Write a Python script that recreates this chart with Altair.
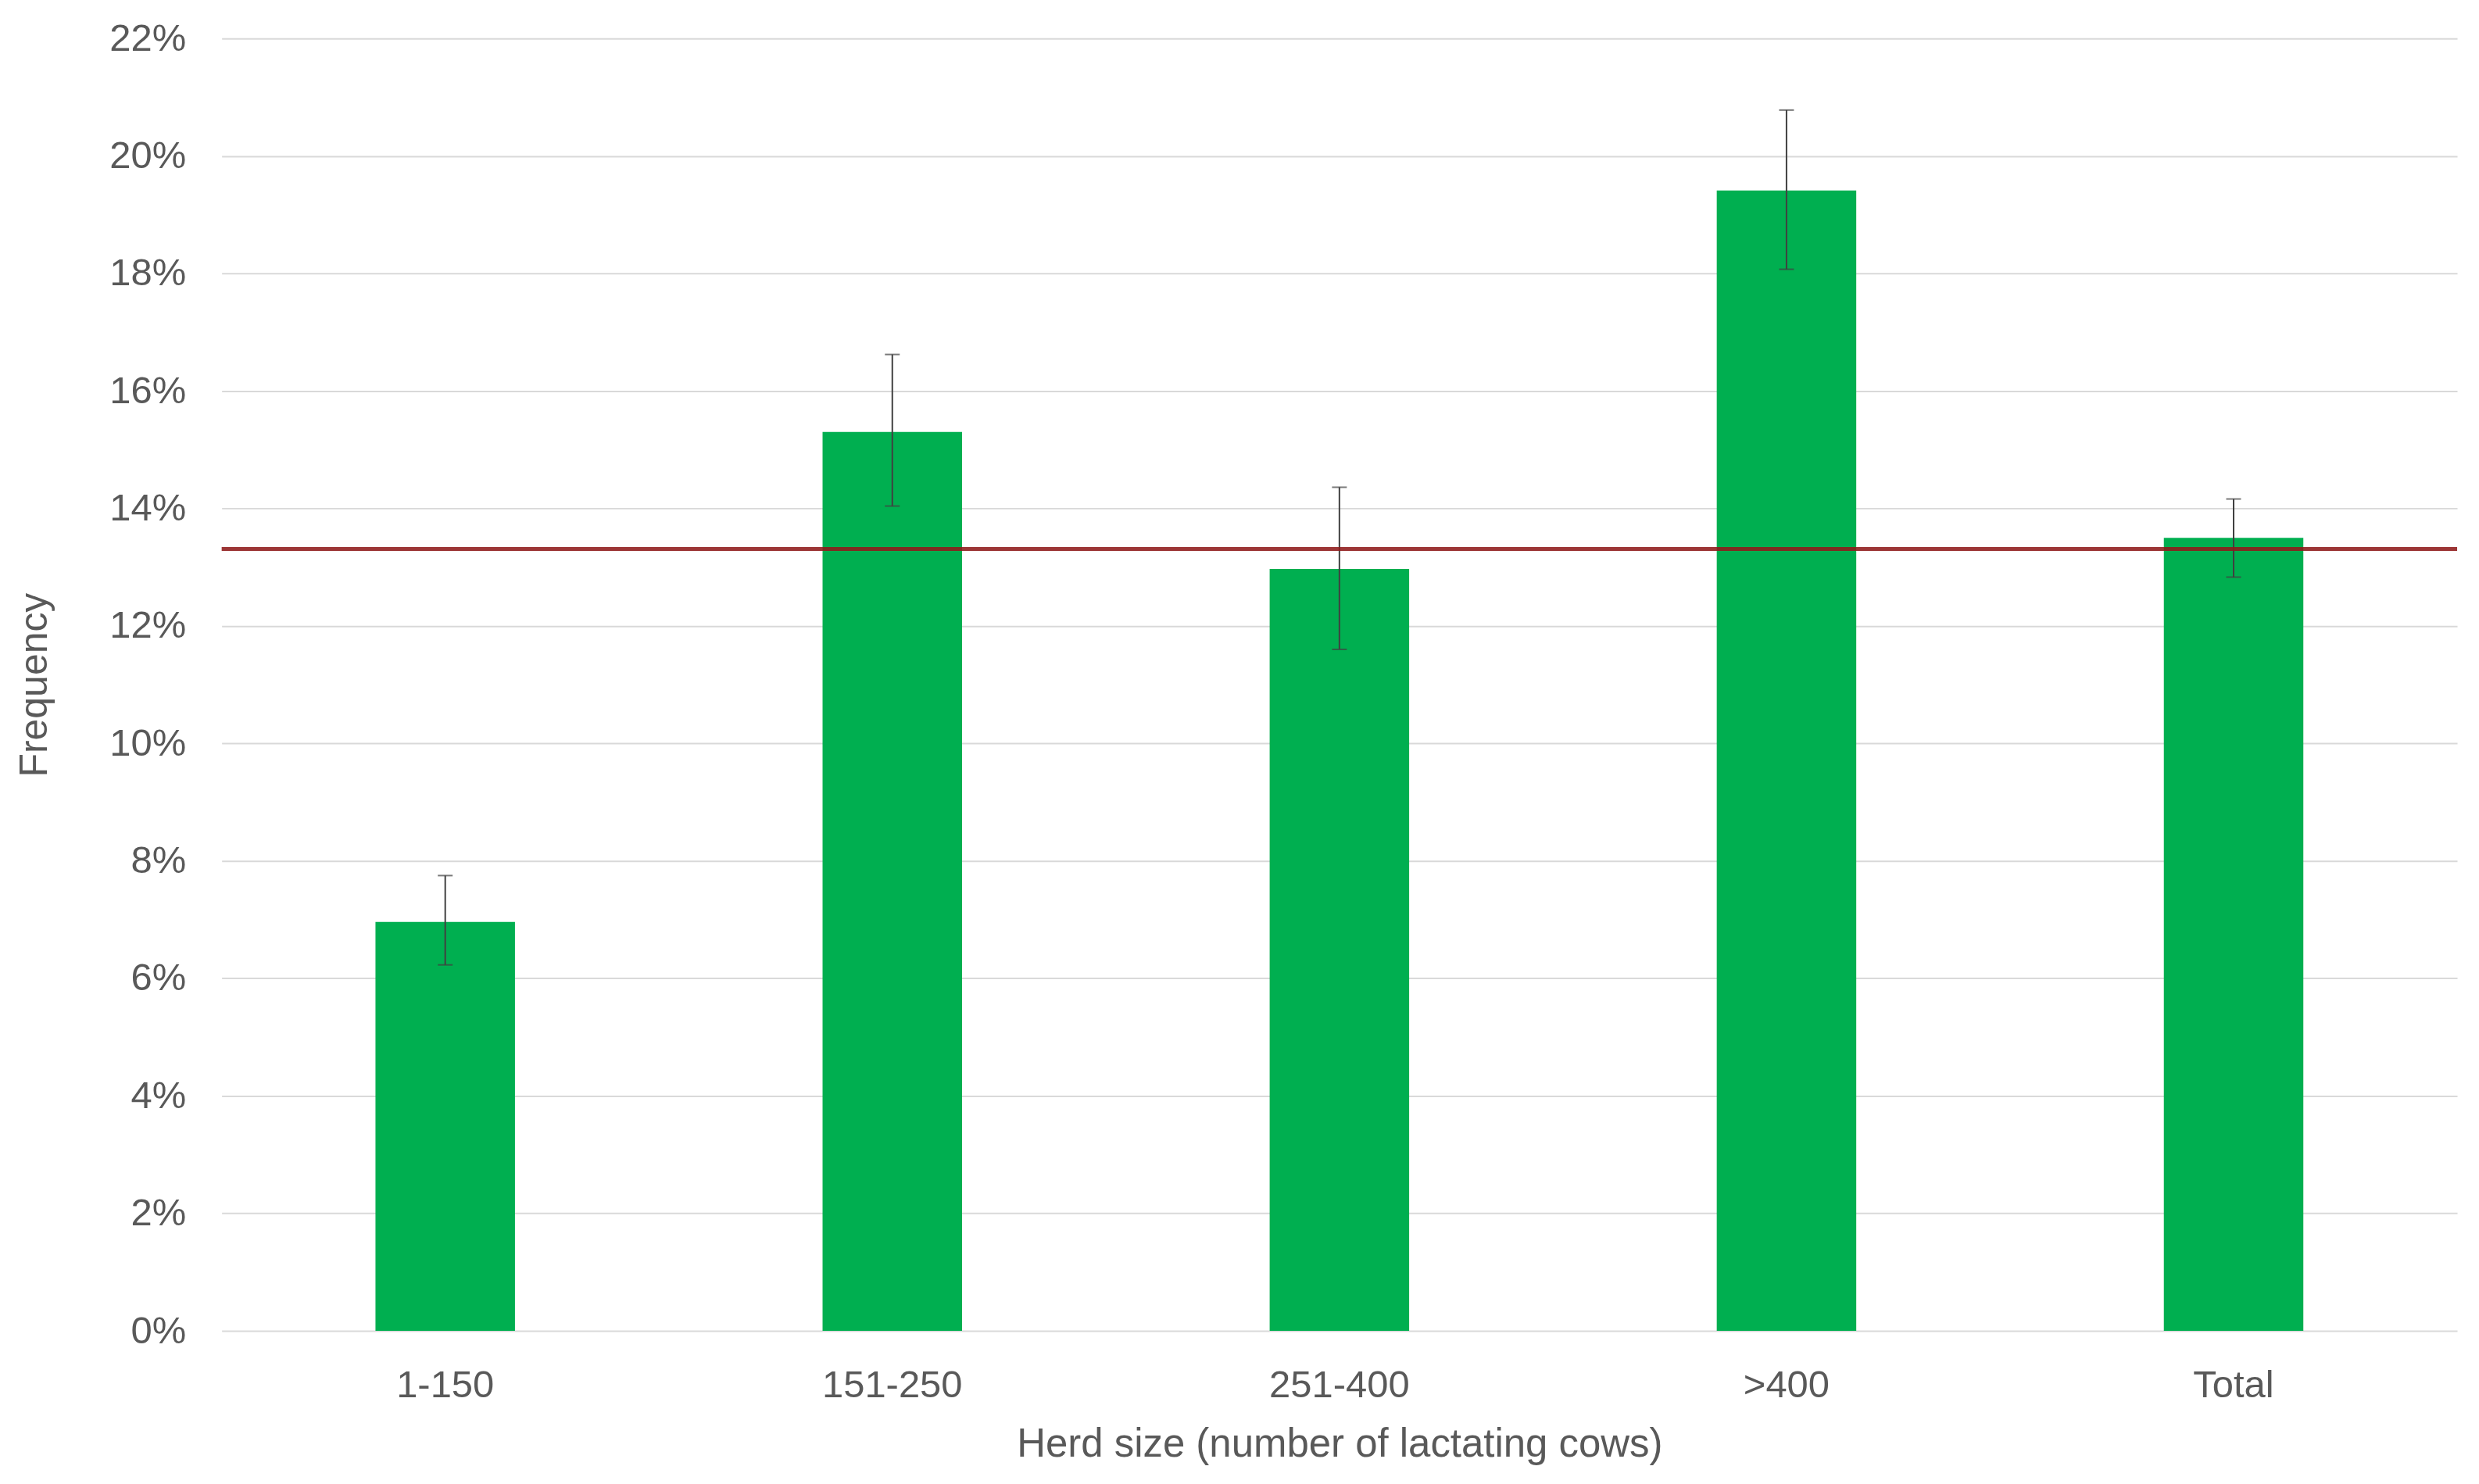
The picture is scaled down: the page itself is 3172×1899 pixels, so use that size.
import altair as alt
import pandas as pd

categories = ["1-150", "151-250", "251-400", ">400", "Total"]
values = [0.0696, 0.1530, 0.1297, 0.1941, 0.1350]
err_low = [0.0623, 0.1404, 0.1160, 0.1807, 0.1283]
err_high = [0.0775, 0.1662, 0.1436, 0.2078, 0.1416]
reference_line = 0.1331
y_ticks = [0.0, 0.02, 0.04, 0.06, 0.08, 0.10, 0.12, 0.14, 0.16, 0.18, 0.20, 0.22]

df = pd.DataFrame({"cat": categories, "val": values, "lo": err_low, "hi": err_high})

FONT = "Liberation Sans"
GREY = "#595959"

x_enc = alt.X(
    "cat:N",
    sort=categories,
    scale=alt.Scale(paddingInner=0.688, paddingOuter=0.344),
    axis=alt.Axis(
        title="Herd size (number of lactating cows)",
        labelAngle=0,
        labelFont=FONT,
        labelFontSize=49,
        labelColor=GREY,
        labelPadding=46,
        labelBaseline="top",
        ticks=False,
        domain=False,
        grid=False,
        titleFont=FONT,
        titleFontSize=51,
        titleFontWeight="normal",
        titleColor=GREY,
        titleY=146,
        titleBaseline="middle",
    ),
)

y_scale = alt.Scale(domain=[0, 0.22], nice=False)

bars = alt.Chart(df).mark_bar(color="#00AF50").encode(
    x=x_enc,
    y=alt.Y(
        "val:Q",
        scale=y_scale,
        axis=alt.Axis(
            title="Frequency",
            values=y_ticks,
            format=".0%",
            labelFont=FONT,
            labelFontSize=49,
            labelColor=GREY,
            labelPadding=46,
            ticks=False,
            domain=False,
            grid=True,
            gridColor="#D9D9D9",
            gridWidth=2,
            titleFont=FONT,
            titleFontSize=50,
            titleFontWeight="normal",
            titleColor=GREY,
            titleAngle=270,
            titleX=-239,
            titleY=828,
            titleAlign="center",
            titleBaseline="middle",
        ),
    ),
)

err_rule = alt.Chart(df).mark_rule(color="#404040", strokeWidth=2).encode(
    x=alt.X("cat:N", sort=categories),
    y="lo:Q",
    y2="hi:Q",
)

cap_lo = alt.Chart(df).mark_tick(color="#404040", thickness=2, size=19).encode(
    x=alt.X("cat:N", sort=categories),
    y="lo:Q",
)
cap_hi = alt.Chart(df).mark_tick(color="#404040", thickness=2, size=19).encode(
    x=alt.X("cat:N", sort=categories),
    y="hi:Q",
)

ref = alt.Chart(pd.DataFrame({"r": [reference_line]})).mark_rule(
    color="#8E1A1A", strokeWidth=5, opacity=0.88
).encode(y="r:Q")

chart = (
    alt.layer(bars, err_rule, cap_lo, cap_hi, ref)
    .properties(
        width=2864,
        height=1656,
        background="white",
        autosize=alt.AutoSizeParams(type="none"),
        padding={"left": 276, "top": 40, "right": 20, "bottom": 180},
    )
    .configure_view(strokeWidth=0, stroke="transparent")
    .configure_axis(domain=False, ticks=False)
    .configure_axisX(grid=False)
)

chart.save("out.html", embed_options={"renderer": "svg", "actions": False})
